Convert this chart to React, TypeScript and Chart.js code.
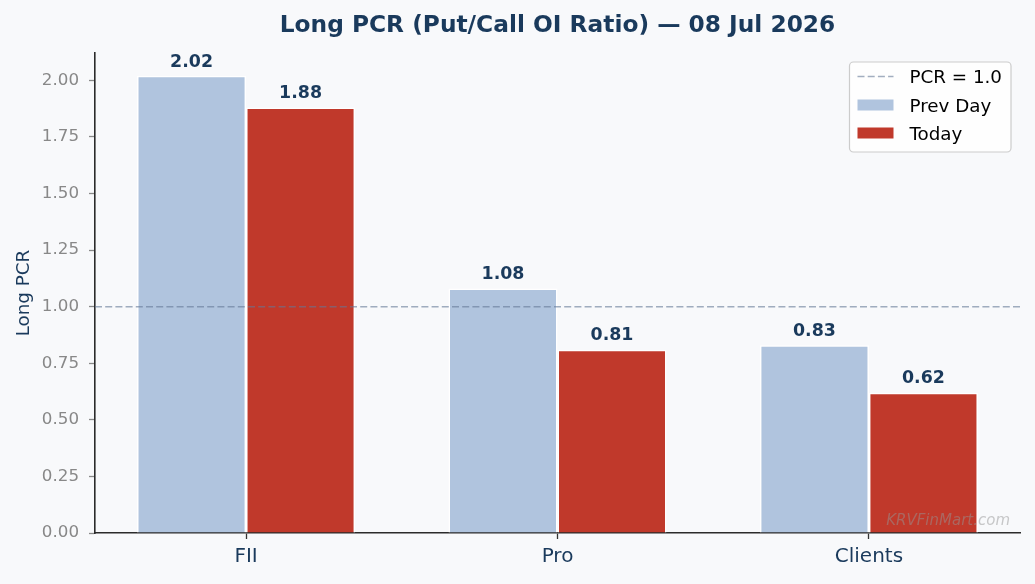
import React, { useEffect, useRef } from "react";
import { Chart, registerables } from "chart.js";

Chart.register(...registerables);

const categories = ["FII", "Pro", "Clients"];
const prevDay = [2.02, 1.08, 0.83];
const today = [1.88, 0.81, 0.62];
const seriesNames = ["Prev Day", "Today"];
const yTicks = [0, 0.25, 0.5, 0.75, 1.0, 1.25, 1.5, 1.75, 2.0];
const yMax = 2.121;
const pcrLevel = 1.0;
const pcrLabel = "PCR = 1.0";
const titleText = "Long PCR (Put/Call OI Ratio) — 08 Jul 2026";
const yTitle = "Long PCR";
const watermark = "KRVFinMart.com";

const FONT = "'DejaVu Sans', 'Liberation Sans', sans-serif";
const NAVY = "#1a3a5c";
const BG = "#f8f9fb";
const PREV_COLOR = "#b0c4de";
const TODAY_COLOR = "#c0392b";
const REF_COLOR = "rgba(100,120,150,0.6)";
const REF_DASH = [7, 3.2];

const decorPlugin = {
  id: "decor",
  beforeDraw(chart: any) {
    const { ctx, width, height } = chart;
    ctx.save();
    ctx.fillStyle = BG;
    ctx.fillRect(0, 0, width, height);
    ctx.restore();
  },
  afterDatasetsDraw(chart: any) {
    const { ctx, chartArea, scales } = chart;
    const y = scales.y.getPixelForValue(pcrLevel);
    ctx.save();
    ctx.strokeStyle = REF_COLOR;
    ctx.lineWidth = 1.6;
    ctx.setLineDash(REF_DASH);
    ctx.beginPath();
    ctx.moveTo(chartArea.left, y);
    ctx.lineTo(chartArea.right, y);
    ctx.stroke();
    ctx.restore();

    // value labels
    ctx.save();
    ctx.font = `bold 17.4px ${FONT}`;
    ctx.fillStyle = NAVY;
    ctx.textAlign = "center";
    ctx.textBaseline = "alphabetic";
    chart.data.datasets.forEach((ds: any, di: number) => {
      const meta = chart.getDatasetMeta(di);
      meta.data.forEach((el: any, i: number) => {
        const v = ds.data[i].y;
        ctx.fillText(v.toFixed(2), el.x, el.y - 9.3);
      });
    });
    ctx.restore();
  },
  afterDraw(chart: any) {
    const { ctx, chartArea } = chart;
    // title
    ctx.save();
    ctx.font = `bold 23.3px ${FONT}`;
    ctx.fillStyle = NAVY;
    ctx.textAlign = "center";
    ctx.textBaseline = "alphabetic";
    ctx.fillText(titleText, (chartArea.left + chartArea.right) / 2, 32.3);
    ctx.restore();

    // y title
    ctx.save();
    ctx.font = `18.3px ${FONT}`;
    ctx.fillStyle = NAVY;
    ctx.textAlign = "center";
    ctx.textBaseline = "alphabetic";
    ctx.translate(29, (chartArea.top + chartArea.bottom) / 2);
    ctx.rotate(-Math.PI / 2);
    ctx.fillText(yTitle, 0, 0);
    ctx.restore();

    // watermark
    ctx.save();
    ctx.font = `italic 15px ${FONT}`;
    ctx.fillStyle = "rgba(150,150,150,0.5)";
    ctx.textAlign = "right";
    ctx.textBaseline = "alphabetic";
    ctx.fillText(watermark, chartArea.right - 10, chartArea.bottom - 8);
    ctx.restore();

    // legend
    ctx.save();
    ctx.font = `18.3px ${FONT}`;
    const labels = [pcrLabel, ...seriesNames];
    const textW = Math.max(...labels.map((t) => ctx.measureText(t).width));
    const padL = 8, handleW = 36, gap = 16, padR = 9;
    const boxW = padL + handleW + gap + textW + padR;
    const boxH = 90;
    const bx = chartArea.right - 9 - boxW;
    const by = chartArea.top + 9;
    ctx.beginPath();
    ctx.roundRect(bx, by, boxW, boxH, 4);
    ctx.fillStyle = "rgba(255,255,255,0.8)";
    ctx.fill();
    ctx.strokeStyle = "#cccccc";
    ctx.lineWidth = 1.2;
    ctx.stroke();
    const rowY = [by + 14.5, by + 43, by + 71];
    const hx = bx + padL;
    ctx.save();
    ctx.strokeStyle = REF_COLOR;
    ctx.lineWidth = 1.6;
    ctx.setLineDash(REF_DASH);
    ctx.beginPath();
    ctx.moveTo(hx, rowY[0]);
    ctx.lineTo(hx + handleW, rowY[0]);
    ctx.stroke();
    ctx.restore();
    ctx.fillStyle = PREV_COLOR;
    ctx.fillRect(hx, rowY[1] - 5.5, handleW, 11);
    ctx.fillStyle = TODAY_COLOR;
    ctx.fillRect(hx, rowY[2] - 5.5, handleW, 11);
    ctx.fillStyle = "#000000";
    ctx.textAlign = "left";
    ctx.textBaseline = "alphabetic";
    labels.forEach((t, i) => {
      ctx.fillText(t, hx + handleW + gap, rowY[i] + 6.7);
    });
    ctx.restore();
  },
};

export default function App() {
  const ref = useRef<HTMLCanvasElement | null>(null);
  useEffect(() => {
    if (!ref.current) return;
    const chart = new Chart(ref.current, {
      type: "bar",
      data: {
        datasets: [
          {
            label: seriesNames[0],
            data: prevDay.map((v, i) => ({ x: i, y: v })),
            backgroundColor: PREV_COLOR,
            borderColor: "#ffffff",
            borderWidth: 1.5,
            categoryPercentage: 0.7,
            barPercentage: 1.0,
          },
          {
            label: seriesNames[1],
            data: today.map((v, i) => ({ x: i, y: v })),
            backgroundColor: TODAY_COLOR,
            borderColor: "#ffffff",
            borderWidth: 1.5,
            categoryPercentage: 0.7,
            barPercentage: 1.0,
          },
        ],
      },
      options: {
        responsive: false,
        animation: false,
        events: [],
        devicePixelRatio: 1,
        layout: { padding: { top: 53, right: 15, left: 0, bottom: 0 } },
        plugins: {
          legend: { display: false },
          title: { display: false },
          tooltip: { enabled: false },
        },
        scales: {
          x: {
            type: "linear",
            min: -0.485,
            max: 2.485,
            offset: false,
            afterBuildTicks: (s: any) => {
              s.ticks = categories.map((_, i) => ({ value: i }));
            },
            afterFit: (s: any) => {
              s.height = 51;
            },
            ticks: {
              callback: (v: any) => categories[Math.round(Number(v))] ?? "",
              color: NAVY,
              font: { family: FONT, size: 20 },
              padding: 6,
              autoSkip: false,
              maxRotation: 0,
              minRotation: 0,
            },
            grid: {
              display: true,
              offset: false,
              drawOnChartArea: false,
              drawTicks: true,
              tickLength: 6,
              tickColor: "#333333",
              tickWidth: 1.3,
            },
            border: { display: true, color: "#2b2b2b", width: 1.6 },
          },
          y: {
            type: "linear",
            min: 0,
            max: yMax,
            afterBuildTicks: (s: any) => {
              s.ticks = yTicks.map((v) => ({ value: v }));
            },
            afterFit: (s: any) => {
              s.width = 95;
            },
            ticks: {
              callback: (v: any) => Number(v).toFixed(2),
              color: "#888888",
              font: { family: FONT, size: 16.7 },
              padding: 10,
            },
            grid: {
              display: true,
              offset: false,
              drawOnChartArea: false,
              drawTicks: true,
              tickLength: 6,
              tickColor: "#888888",
              tickWidth: 1.3,
            },
            border: { display: true, color: "#2b2b2b", width: 1.6 },
          },
        },
      },
      plugins: [decorPlugin],
    } as any);
    return () => chart.destroy();
  }, []);
  return (
    <div style={{ position: "fixed", left: 0, top: 0, width: 1035, height: 584, background: BG }}>
      <canvas ref={ref} width={1035} height={584} style={{ display: "block", width: 1035, height: 584 }} />
    </div>
  );
}
